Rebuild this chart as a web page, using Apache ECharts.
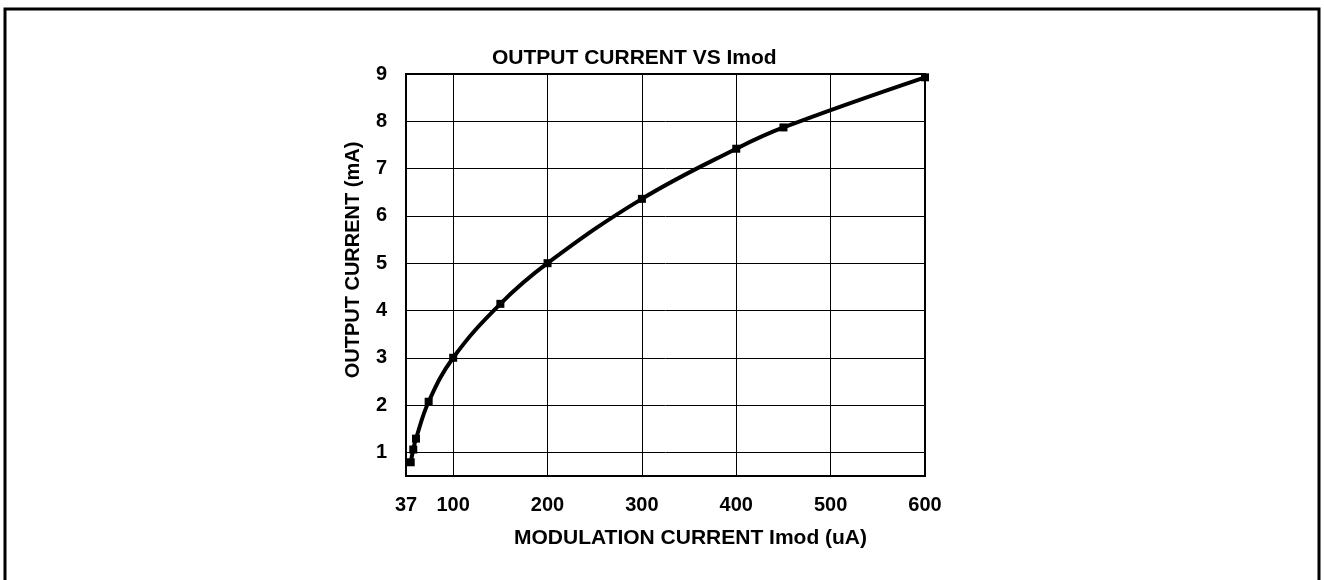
<!DOCTYPE html>
<html>
<head>
<meta charset="utf-8">
<script src="https://cdn.jsdelivr.net/npm/echarts@6/dist/echarts.min.js"></script>
<style>
	html, body { margin: 0; padding: 0; background: #fff; }
	#chart { width: 1324px; height: 580px; }
</style>
</head>
<body>
<div id="chart"></div>
<script>
	// 数据
	var imodValues = [55, 57.7, 60.6, 74, 100, 150, 200, 300, 400, 450, 600];
	var outputValues = [0.79, 1.06, 1.29, 2.07, 3.0, 4.14, 5.0, 6.36, 7.42, 7.87, 8.93];
	var xTickValues = [50, 100, 200, 300, 400, 500, 600];
	var xTickLabels = ['37', '100', '200', '300', '400', '500', '600'];
	var xGridValues = [100, 200, 300, 400, 500];
	var yTickValues = [1, 2, 3, 4, 5, 6, 7, 8, 9];

	var fontFamily = '"Liberation Sans", Arial, sans-serif';
	var myChart = echarts.init(document.getElementById('chart'));

	var points = [];
	for (var i = 0; i < imodValues.length; i++) {
		points.push([imodValues[i], outputValues[i]]);
	}

	var option = {
		animation: false,
		backgroundColor: '#fff',
		title: {
			text: 'OUTPUT CURRENT VS Imod',
			left: 487, top: 43,
			textStyle: { fontFamily: fontFamily, fontSize: 21, fontWeight: 'bold', color: '#000' }
		},
		graphic: [{
			type: 'rect',
			shape: { x: 5, y: 9, width: 1314, height: 600 },
			style: { fill: 'none', stroke: '#000', lineWidth: 3 },
			silent: true
		}],
		grid: {
			left: 406, top: 74, right: 399, bottom: 104,
			show: true, borderColor: '#000', borderWidth: 2,
			containLabel: false
		},
		xAxis: {
			type: 'value',
			min: 50, max: 600,
			name: 'MODULATION CURRENT Imod (uA)',
			nameLocation: 'middle',
			nameGap: 52,
			nameTextStyle: { fontFamily: fontFamily, fontSize: 21, fontWeight: 'bold', color: '#000', padding: [0, 0, 0, 50] },
			axisLine: { show: false },
			axisTick: { show: false, customValues: xGridValues },
			axisLabel: {
				customValues: xTickValues,
				margin: 19,
				fontFamily: fontFamily, fontSize: 20, fontWeight: 'bold', color: '#000',
				formatter: function(v) {
					var idx = xTickValues.indexOf(v);
					return idx >= 0 ? xTickLabels[idx] : '';
				}
			},
			splitLine: { show: true, lineStyle: { color: '#000', width: 1 } }
		},
		yAxis: {
			type: 'value',
			min: 0.5, max: 9,
			name: 'OUTPUT CURRENT (mA)',
			nameLocation: 'middle',
			nameGap: 43,
			nameTextStyle: { fontFamily: fontFamily, fontSize: 20, fontWeight: 'bold', color: '#000', padding: [0, 0, 0, 30] },
			axisLine: { show: false },
			axisTick: { show: false, customValues: yTickValues },
			axisLabel: {
				customValues: yTickValues,
				margin: 19,
				fontFamily: fontFamily, fontSize: 20, fontWeight: 'bold', color: '#000'
			},
			splitLine: { show: true, lineStyle: { color: '#000', width: 1 } }
		},
		series: [{
			type: 'line',
			data: points,
			smooth: 0.4,
			symbol: 'rect',
			symbolSize: 8,
			lineStyle: { color: '#000', width: 4 },
			itemStyle: { color: '#000' },
			clip: false
		}]
	};
	myChart.setOption(option);
</script>
</body>
</html>
